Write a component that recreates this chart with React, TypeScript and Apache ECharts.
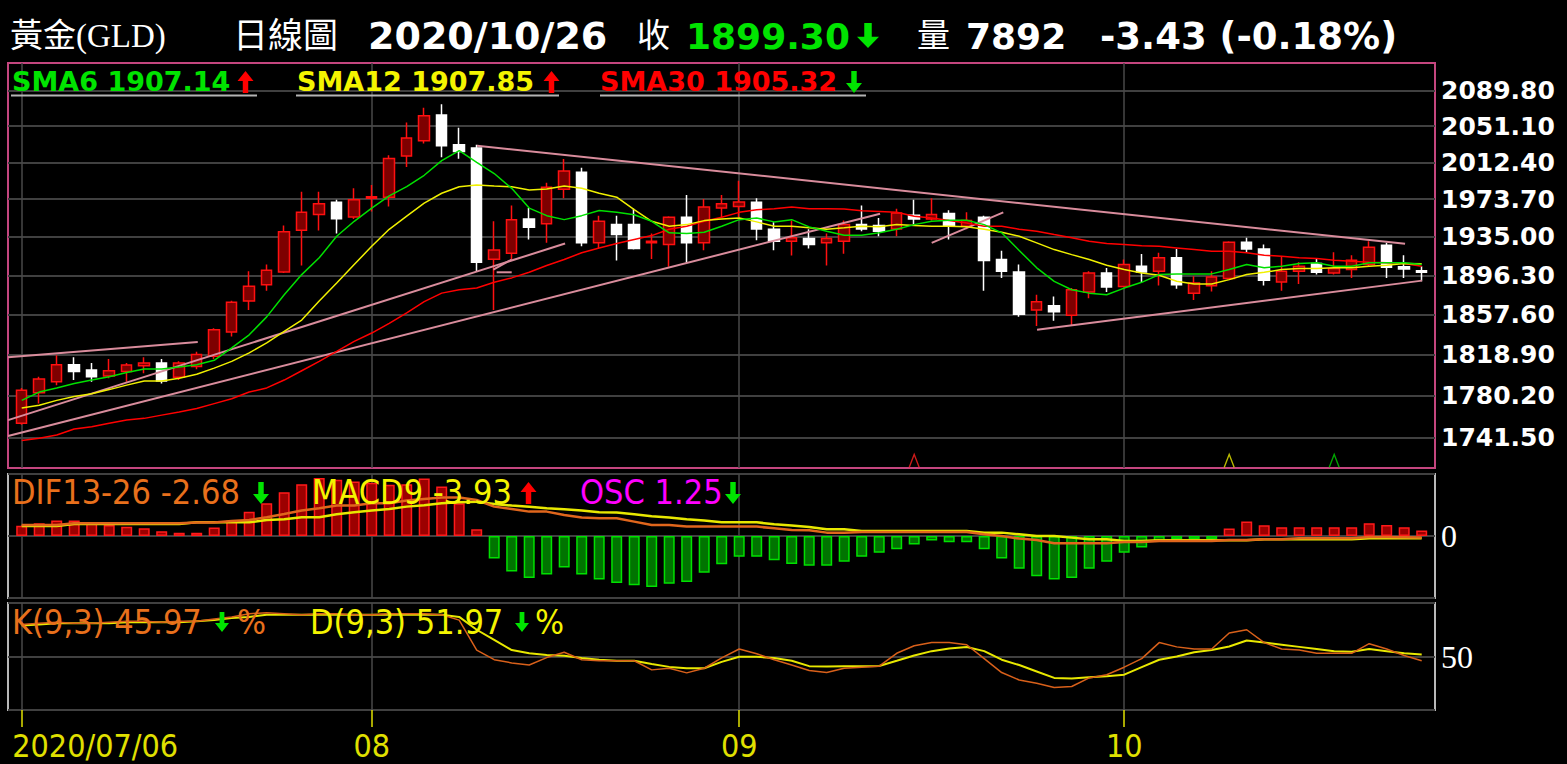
import React, { useEffect, useRef } from 'react';
import * as echarts from 'echarts';

const DATES = [
  '2020/07/06','2020/07/07','2020/07/08','2020/07/09','2020/07/10','2020/07/13','2020/07/14','2020/07/15','2020/07/16','2020/07/17',
  '2020/07/20','2020/07/21','2020/07/22','2020/07/23','2020/07/24','2020/07/27','2020/07/28','2020/07/29','2020/07/30','2020/07/31',
  '2020/08/03','2020/08/04','2020/08/05','2020/08/06','2020/08/07','2020/08/10','2020/08/11','2020/08/12','2020/08/13','2020/08/14',
  '2020/08/17','2020/08/18','2020/08/19','2020/08/20','2020/08/21','2020/08/24','2020/08/25','2020/08/26','2020/08/27','2020/08/28','2020/08/31',
  '2020/09/01','2020/09/02','2020/09/03','2020/09/04','2020/09/07','2020/09/08','2020/09/09','2020/09/10','2020/09/11','2020/09/14',
  '2020/09/15','2020/09/16','2020/09/17','2020/09/18','2020/09/21','2020/09/22','2020/09/23','2020/09/24','2020/09/25','2020/09/28',
  '2020/09/29','2020/09/30',
  '2020/10/01','2020/10/02','2020/10/05','2020/10/06','2020/10/07','2020/10/08','2020/10/09','2020/10/12','2020/10/13','2020/10/14',
  '2020/10/15','2020/10/16','2020/10/19','2020/10/20','2020/10/21','2020/10/22','2020/10/23','2020/10/26'
];

// [open, close, low, high]
const OHLC = [
  [1754.3,1785.0,1753.0,1787.3],[1782.8,1795.7,1772.6,1797.9],[1793.1,1809.2,1789.9,1818.2],[1809.2,1802.7,1794.7,1816.3],
  [1804.2,1797.7,1793.1,1810.9],[1798.6,1803.4,1796.4,1814.7],[1802.7,1808.9,1793.1,1810.9],[1808.2,1810.9,1801.1,1816.3],
  [1810.9,1793.7,1791.5,1814.7],[1797.3,1810.9,1794.7,1812.4],[1807.6,1818.9,1805.0,1821.6],[1817.3,1842.7,1814.7,1844.3],
  [1840.5,1869.6,1836.3,1871.0],[1870.9,1885.3,1861.9,1900.3],[1887.0,1901.3,1881.0,1907.1],[1899.7,1940.1,1898.7,1946.5],
  [1941.7,1960.1,1906.1,1981.5],[1957.9,1968.9,1941.4,1981.5],[1970.6,1953.6,1938.4,1973.0],[1955.4,1973.0,1953.3,1985.0],
  [1974.7,1976.3,1961.1,1988.4],[1975.7,2016.3,1966.1,2019.8],[2019.0,2038.1,2007.3,2054.8],[2035.3,2062.3,2032.4,2070.9],
  [2063.1,2030.0,2017.7,2074.7],[2031.1,2023.7,2016.0,2049.3],[2027.6,1909.4,1900.3,2031.1],[1912.4,1921.8,1861.9,1950.9],
  [1918.3,1952.6,1912.1,1967.1],[1953.3,1944.8,1932.3,1964.5],[1948.5,1986.1,1928.9,1990.8],[1984.1,2003.2,1974.7,2015.9],
  [2001.8,1928.9,1925.5,2006.6],[1928.9,1950.9,1923.8,1956.7],[1947.5,1937.3,1911.1,1956.7],[1947.5,1923.1,1922.1,1963.8],
  [1928.9,1930.5,1912.7,1938.4],[1927.2,1955.0,1904.8,1956.0],[1955.0,1928.9,1908.8,1978.1],[1928.9,1965.5,1921.4,1974.0],
  [1964.5,1968.9,1954.3,1978.1],[1966.2,1970.9,1955.4,1992.9],[1970.6,1943.1,1931.5,1974.7],[1942.7,1930.5,1921.4,1949.9],
  [1930.5,1934.0,1916.2,1951.6],[1933.3,1927.2,1923.1,1942.7],[1928.9,1933.3,1906.1,1938.4],[1930.5,1947.5,1918.0,1951.6],
  [1947.5,1943.1,1940.7,1967.1],[1946.5,1940.7,1935.6,1954.3],[1943.1,1959.5,1935.6,1963.8],[1957.1,1953.3,1947.5,1973.0],
  [1953.3,1957.9,1951.6,1974.7],[1958.9,1946.5,1932.3,1962.2],[1945.8,1951.6,1942.7,1960.1],[1955.0,1911.1,1881.0,1956.7],
  [1912.1,1900.3,1893.7,1921.0],[1899.7,1857.9,1855.3,1907.1],[1861.9,1870.2,1846.5,1876.9],[1866.2,1860.2,1851.5,1875.2],
  [1856.9,1881.9,1847.4,1883.6],[1879.6,1898.7,1873.6,1900.3],[1898.7,1884.6,1879.6,1903.7],[1885.2,1907.1,1884.6,1912.1],
  [1905.4,1899.7,1889.7,1917.7],[1900.3,1913.8,1886.2,1918.8],[1913.8,1887.0,1883.0,1922.8],[1878.6,1888.7,1871.9,1895.3],
  [1886.0,1894.7,1880.2,1900.3],[1893.0,1929.5,1892.0,1930.5],[1929.5,1922.8,1919.4,1934.0],[1922.8,1891.3,1886.2,1927.2],
  [1889.7,1900.3,1881.0,1915.4],[1900.3,1905.4,1887.7,1909.4],[1908.1,1899.3,1897.0,1912.8],[1898.7,1903.0,1897.0,1919.4],
  [1902.0,1911.4,1893.7,1916.4],[1907.1,1924.4,1905.4,1930.5],[1926.4,1904.4,1893.7,1928.9],[1904.8,1902.7,1893.7,1916.4],
  [1900.9,1899.3,1890.3,1905.4]
];

const SMA6 = [
  1775.6,1783.4,1787.3,1791.5,1794.7,1797.9,1801.8,1805.1,1805.1,1807.0,1809.2,1813.4,1825.3,1837.9,1855.3,1877.0,1897.0,
  1913.8,1935.6,1950.9,1964.5,1977.1,1986.7,1998.7,2014.2,2024.8,2012.4,2000.5,1985.0,1964.5,1956.7,1952.6,1956.7,1962.1,
  1960.1,1957.7,1950.9,1939.1,1938.4,1939.7,1945.8,1952.6,1954.3,1950.3,1952.6,1945.2,1940.7,1936.6,1936.6,1939.1,1942.7,
  1947.5,1950.9,1951.9,1951.9,1947.5,1939.1,1921.2,1903.8,1890.3,1881.9,1878.6,1877.0,1883.6,1889.3,1897.0,1897.7,1897.7,
  1897.7,1902.0,1907.1,1903.8,1905.4,1908.1,1908.8,1905.4,1905.4,1908.8,1908.8,1908.8,1907.14
];
const SMA12 = [
  1768.6,1771.1,1775.6,1779.3,1781.8,1785.7,1789.9,1793.7,1793.7,1796.4,1800.2,1806.0,1812.4,1820.5,1830.1,1841.1,1852.2,
  1870.9,1888.6,1907.1,1925.4,1942.7,1956.3,1969.6,1979.9,1986.7,1988.4,1987.4,1986.7,1983.3,1984.3,1987.4,1985.0,1979.9,
  1975.8,1962.8,1950.9,1945.8,1947.5,1951.6,1953.3,1954.3,1950.3,1945.8,1945.8,1944.2,1942.7,1944.2,1945.8,1945.2,1947.5,
  1946.5,1945.8,1945.8,1945.2,1942.7,1939.7,1935.6,1928.9,1922.1,1917.0,1912.1,1906.4,1902.0,1898.7,1896.3,1890.3,1887.6,
  1887.6,1892.0,1897.0,1899.3,1902.0,1903.1,1903.1,1903.8,1903.8,1905.4,1906.4,1908.1,1907.85
];
const SMA30 = [
  1738.5,1740.6,1743.6,1749.1,1751.2,1754.3,1757.3,1758.9,1761.9,1764.9,1768.0,1772.6,1777.2,1783.4,1787.3,1794.7,1803.5,
  1812.4,1822.0,1831.6,1839.6,1849.0,1859.2,1870.2,1878.6,1881.9,1883.6,1889.3,1893.7,1899.3,1906.1,1912.1,1918.9,1923.8,
  1928.2,1932.3,1936.3,1942.7,1945.8,1950.9,1955.0,1960.1,1962.8,1963.8,1965.5,1963.8,1963.8,1963.5,1961.8,1961.1,1960.1,
  1956.0,1954.3,1951.6,1949.2,1945.8,1945.8,1942.7,1940.7,1937.3,1934.0,1930.5,1928.2,1927.2,1926.1,1925.4,1923.8,1922.1,
  1920.4,1920.4,1918.8,1916.4,1915.4,1913.8,1913.1,1911.4,1910.4,1909.4,1908.8,1908.1,1905.32
];

const OSC = [
  2.3,2.9,3.5,3.5,2.9,2.5,2.1,1.75,1.1,0.75,0.75,1.9,3.5,5.5,7.4,9.9,11.7,13.1,12.7,12.3,12.0,11.6,11.7,13.0,11.2,7.4,1.5,
  -5.1,-8.0,-9.5,-8.7,-7.1,-8.7,-9.8,-10.6,-11.1,-11.5,-10.8,-10.4,-8.3,-6.4,-4.7,-4.7,-5.5,-6.3,-6.7,-6.7,-5.8,-4.7,-3.8,
  -3.0,-1.9,-1.0,-1.4,-1.4,-3.0,-5.1,-7.4,-9.1,-9.8,-9.5,-7.4,-5.8,-3.8,-2.6,-1.1,-0.75,-0.75,-0.75,
  1.7,3.3,2.4,2.0,2.0,2.0,2.0,2.0,2.9,2.5,2.0,1.25
];
const DIF = [
  18.3,18.3,18.3,21.1,21.1,21.1,21.1,21.1,21.1,21.1,22.3,22.3,24.9,26.6,31.1,36.5,42.2,46.0,50.5,50.5,54.3,54.3,58.8,61.5,
  63.8,63.8,59.8,48.8,44.9,40.5,40.5,34.9,30.6,29.4,29.4,23.9,18.3,18.3,15.6,15.6,15.6,15.6,15.6,12.8,10.0,9.5,5.6,5.6,
  6.6,6.6,6.6,6.6,6.6,6.6,6.6,2.8,0,-4.3,-6.6,-12.1,-12.1,-12.1,-12.1,-10.0,-10.0,-8.3,-8.3,-8.3,-8.3,-6.6,-6.6,-5.5,-5.5,
  -3.8,-3.8,-3.8,-3.8,-1.7,-1.7,-2.0,-2.68
];
const MACD = [
  16.6,16.6,16.6,19.9,19.9,19.9,19.9,19.9,19.9,19.9,22.8,22.8,22.8,22.8,26.6,27.7,31.1,31.1,36.0,39.4,42.2,44.9,48.8,51.0,
  54.3,56.0,57.1,53.2,50.5,48.5,46.0,44.4,42.2,39.4,38.9,36.0,32.7,30.6,27.7,25.6,22.8,22.8,22.8,19.4,17.3,15.0,11.1,11.1,
  8.3,8.3,8.3,8.3,8.3,8.3,8.3,5.6,5.6,2.8,0,0,-2.7,-5.5,-5.5,-8.3,-8.3,-7.1,-7.1,-7.1,-7.1,-7.1,-7.1,-5.5,-5.5,-5.5,-5.5,
  -5.5,-5.5,-3.9,-3.9,-3.9,-3.93
];
const K = [
  80,81,82,81,81,82,83,83,82,83,83,85,87,90,91,90,89,90,90,89,89,90,90,90,89,84,56,47,44,42,49,54,47,46,46,46,37.5,39,
  34.7,39,48.7,57,52.5,47,42,37,35,39,40,41,53,60,63,63,61,48,35,28,25,21,22,30,33,40,48,63,59,57,57,72,75,63,57,56,53,
  53,53,62,57,51,45.97
];
const D = [
  79,80,81,81,81,81,82,82,82,82,83,84,86,87,89,89,89,89,89,89,89,89,89,89,89,87,75,65.6,56,53,51.5,50.6,48.7,47,46,46,43,
  40.3,39,39,45,49.7,49.7,48.7,46,41,40.6,40.8,41,41.2,46,51,55,57.5,58.8,55,47,42,36,30,29.5,30.5,31.5,33,40,47,50,54,56,
  59.3,65,63,61,59,57,55,54.5,57,55,53,51.97
];

const PRICE_TICKS = [1741.5, 1780.2, 1818.9, 1857.6, 1896.3, 1935.0, 1973.7, 2012.4, 2051.1, 2089.8];
const MONTH_TICKS = [0, 20, 41, 63];
const MONTH_LABELS = ['2020/07/06', '08', '09', '10'];

// trend lines drawn on the price panel: [[index, price], [index, price]]
const TRENDLINES = [
  [[-0.78, 1816.3], [10.06, 1831.0]],
  [[-0.78, 1757.3], [31.05, 1928.2]],
  [[-0.78, 1742.7], [49.05, 1958.7]],
  [[26.02, 2030.0], [79.05, 1927.9]],
  [[58.02, 1842.7], [80.02, 1891.0]],
  [[52.0, 1928.9], [56.09, 1960.1]],
  [[26.95, 1902.0], [28.0, 1912.1]],
  [[27.14, 1899.3], [28.0, 1899.3]]
];
const SIGNALS = [
  { i: 51, color: '#ff2020' },
  { i: 69, color: '#e8e800' },
  { i: 75, color: '#00d000' }
];

const XMIN = -0.783;
const XMAX = 80.76;
const GREEN = '#00e400';
const RED = '#ff0000';
const YELLOW = '#f4f400';
const ORANGE = '#e8701c';
const SANS = '"DejaVu Sans", sans-serif';
const COND = '"DejaVu Sans Condensed", "DejaVu Sans", sans-serif';
const SERIF = '"Liberation Serif", "Noto Sans CJK TC", serif';

function arrow(cx: number, top: number, h: number, w: number, up: boolean, color: string) {
  const hh = h * 0.45;
  const s = w * 0.17;
  const pts = up
    ? [[cx, top], [cx + w / 2, top + hh], [cx + s, top + hh], [cx + s, top + h], [cx - s, top + h], [cx - s, top + hh], [cx - w / 2, top + hh]]
    : [[cx, top + h], [cx + w / 2, top + h - hh], [cx + s, top + h - hh], [cx + s, top], [cx - s, top], [cx - s, top + h - hh], [cx - w / 2, top + h - hh]];
  return { type: 'polygon', silent: true, z: 100, shape: { points: pts }, style: { fill: color } };
}

function txt(x: number, y: number, text: string, fill: string, size: number, family: string, weight: string = 'normal') {
  return {
    type: 'text', x, y, z: 100, silent: true,
    style: { text, fill, fontSize: size, fontFamily: family, fontWeight: weight, verticalAlign: 'middle', align: 'left' }
  };
}

function uline(x1: number, x2: number, y: number) {
  return { type: 'line', silent: true, z: 100, shape: { x1, y1: y, x2, y2: y }, style: { stroke: '#b4b4b4', lineWidth: 2 } };
}

export default function App() {
  const ref = useRef<HTMLDivElement>(null);

  useEffect(() => {
    if (!ref.current) return;
    const chart = echarts.init(ref.current, undefined, { renderer: 'svg' });

    const xBase = (gridIndex: number) => ({
      type: 'value', gridIndex, min: XMIN, max: XMAX,
      axisLine: { show: false },
      axisTick: { show: false, customValues: MONTH_TICKS },
      axisLabel: { show: false },
      splitLine: { show: true, lineStyle: { color: '#484848', width: 1.5 } }
    });

    const candleData = OHLC.map((d, i) => [i, d[0], d[1], d[2], d[3]]);
    const toXY = (arr: number[]) => arr.map((v, i) => [i, v]);

    const trendSeries = TRENDLINES.map((seg) => ({
      type: 'line', xAxisIndex: 0, yAxisIndex: 0, data: seg, showSymbol: false, silent: true,
      lineStyle: { color: '#d98c9c', width: 2 }, z: 3
    }));

    const option: any = {
      animation: false,
      backgroundColor: '#000000',
      grid: [
        { left: 8, top: 63, width: 1427, height: 405, show: true, borderColor: '#c4467f', borderWidth: 2, backgroundColor: 'transparent' },
        { left: 8, top: 474, width: 1427, height: 124, show: true, borderColor: '#b8b8b8', borderWidth: 2, backgroundColor: 'transparent' },
        { left: 8, top: 603, width: 1427, height: 107, show: true, borderColor: '#b8b8b8', borderWidth: 2, backgroundColor: 'transparent' }
      ],
      xAxis: [
        xBase(0),
        xBase(1),
        {
          ...xBase(2),
          axisTick: { show: true, customValues: MONTH_TICKS, length: 17, lineStyle: { color: '#e0e000', width: 1.5 } },
          axisLabel: {
            show: true, customValues: MONTH_TICKS, margin: 20, color: '#e0e000', fontFamily: COND, fontSize: 32,
            formatter: (v: number) => {
              const k = MONTH_TICKS.indexOf(Math.round(v));
              if (k === 0) return '{first|' + MONTH_LABELS[0] + '}';
              return k >= 0 ? MONTH_LABELS[k] : '';
            },
            rich: { first: { color: '#e0e000', fontFamily: COND, fontSize: 32, padding: [0, 0, 0, 147] } }
          }
        }
      ],
      yAxis: [
        {
          type: 'log', gridIndex: 0, position: 'right', min: 1713.6, max: 2120.2,
          axisLine: { show: false },
          axisTick: { show: false, customValues: PRICE_TICKS },
          axisLabel: {
            customValues: PRICE_TICKS, margin: 6, color: '#ffffff', fontFamily: SANS, fontWeight: 'bold', fontSize: 25,
            formatter: (v: number) => Number(v).toFixed(2)
          },
          splitLine: { show: true, lineStyle: { color: '#404040', width: 2 } }
        },
        {
          type: 'value', gridIndex: 1, position: 'right', min: -103, max: 103, interval: 103,
          axisLine: { show: false }, axisTick: { show: false },
          axisLabel: { margin: 6, color: '#ffffff', fontFamily: SERIF, fontSize: 32, formatter: (v: number) => (v === 0 ? '0' : '') },
          splitLine: { show: true, lineStyle: { color: '#404040', width: 2 } }
        },
        { type: 'value', gridIndex: 1, min: -14, max: 14, show: false, splitLine: { show: false } },
        {
          type: 'value', gridIndex: 2, position: 'right', min: 0, max: 100, interval: 50,
          axisLine: { show: false }, axisTick: { show: false },
          axisLabel: { margin: 6, color: '#ffffff', fontFamily: SERIF, fontSize: 32, showMinLabel: false, showMaxLabel: false },
          splitLine: { show: true, lineStyle: { color: '#404040', width: 2 } }
        }
      ],
      series: [
        {
          type: 'candlestick', xAxisIndex: 0, yAxisIndex: 0, data: candleData, barWidth: 11,
          encode: { x: 0, y: [1, 2, 3, 4] },
          itemStyle: { color: '#7e0000', color0: '#ffffff', borderColor: '#ff1010', borderColor0: '#ffffff', borderWidth: 1.5 },
          z: 2
        },
        ...trendSeries,
        {
          type: 'scatter', xAxisIndex: 0, yAxisIndex: 0, silent: true,
          data: SIGNALS.map((s) => ({ value: [s.i, 1720], itemStyle: { color: 'transparent', borderColor: s.color, borderWidth: 1.5 } })),
          symbol: 'path://M0 20 L6 0 L12 20', symbolSize: [10, 13], z: 4
        },
        { type: 'line', xAxisIndex: 0, yAxisIndex: 0, data: toXY(SMA30), showSymbol: false, lineStyle: { color: '#ff0000', width: 1.5 }, z: 5 },
        { type: 'line', xAxisIndex: 0, yAxisIndex: 0, data: toXY(SMA12), showSymbol: false, lineStyle: { color: '#f0f000', width: 1.5 }, z: 5 },
        { type: 'line', xAxisIndex: 0, yAxisIndex: 0, data: toXY(SMA6), showSymbol: false, lineStyle: { color: '#00e000', width: 1.5 }, z: 5 },
        {
          type: 'bar', xAxisIndex: 1, yAxisIndex: 2, barWidth: 11,
          data: OSC.map((v, i) => ({
            value: [i, v],
            itemStyle: { color: v >= 0 ? '#9c0000' : '#007400', borderColor: v >= 0 ? '#ff1a1a' : '#00e000', borderWidth: 1.5 }
          })),
          z: 2
        },
        { type: 'line', xAxisIndex: 1, yAxisIndex: 1, data: toXY(MACD), showSymbol: false, lineStyle: { color: '#e8e800', width: 2.5 }, z: 5 },
        { type: 'line', xAxisIndex: 1, yAxisIndex: 1, data: toXY(DIF), showSymbol: false, lineStyle: { color: '#e0661c', width: 2.5 }, z: 5 },
        { type: 'line', xAxisIndex: 2, yAxisIndex: 3, data: toXY(D), showSymbol: false, lineStyle: { color: '#e8e800', width: 2 }, z: 5 },
        { type: 'line', xAxisIndex: 2, yAxisIndex: 3, data: toXY(K), showSymbol: false, lineStyle: { color: '#d8601a', width: 1.5 }, z: 5 }
      ],
      graphic: [
        // header
        txt(10, 36, '黃金(GLD)', '#ffffff', 33, SERIF),
        txt(233, 36, '日線圖', '#ffffff', 35, SERIF),
        txt(368, 36, DATES[DATES.length - 1], '#ffffff', 38, SANS, 'bold'),
        txt(637, 36, '收', '#ffffff', 33, SERIF),
        txt(686, 36, '1899.30', GREEN, 36, SANS, 'bold'),
        arrow(868, 23, 25, 22, false, GREEN),
        txt(917, 36, '量', '#ffffff', 33, SERIF),
        txt(966, 36, '7892', '#ffffff', 36, SANS, 'bold'),
        txt(1100, 36, '-3.43 (-0.18%)', '#ffffff', 37, SANS, 'bold'),
        // SMA legend
        txt(12, 81, 'SMA6 1907.14', GREEN, 27, SANS, 'bold'),
        arrow(245.5, 71, 22, 16, true, RED),
        uline(11, 257, 95.5),
        txt(297, 81, 'SMA12 1907.85', YELLOW, 27, SANS, 'bold'),
        arrow(551.5, 71, 22, 16, true, RED),
        uline(296, 559, 95.5),
        txt(600, 81, 'SMA30 1905.32', RED, 27, SANS, 'bold'),
        arrow(854, 71, 22, 16, false, GREEN),
        uline(600, 866, 95.5),
        // MACD legend
        txt(12, 492, 'DIF13-26 -2.68', ORANGE, 34, COND),
        arrow(261, 482, 22, 16, false, GREEN),
        txt(312, 492, 'MACD9 -3.93', YELLOW, 34, COND),
        arrow(528.5, 482, 22, 16, true, RED),
        txt(580, 492, 'OSC 1.25', '#ff00ff', 34, COND),
        arrow(733, 482, 22, 16, false, GREEN),
        // KD legend
        txt(12, 622, 'K(9,3) 45.97', ORANGE, 34, COND),
        arrow(222, 612, 20, 14, false, GREEN),
        txt(237, 622, '%', ORANGE, 34, COND),
        txt(310, 622, 'D(9,3) 51.97', YELLOW, 34, COND),
        arrow(522, 612, 20, 14, false, GREEN),
        txt(535, 622, '%', YELLOW, 34, COND)
      ]
    };

    chart.setOption(option);
    return () => chart.dispose();
  }, []);

  return (
    <div
      ref={ref}
      style={{ position: 'absolute', left: 0, top: 0, width: 1567, height: 764, background: '#000' }}
    />
  );
}
